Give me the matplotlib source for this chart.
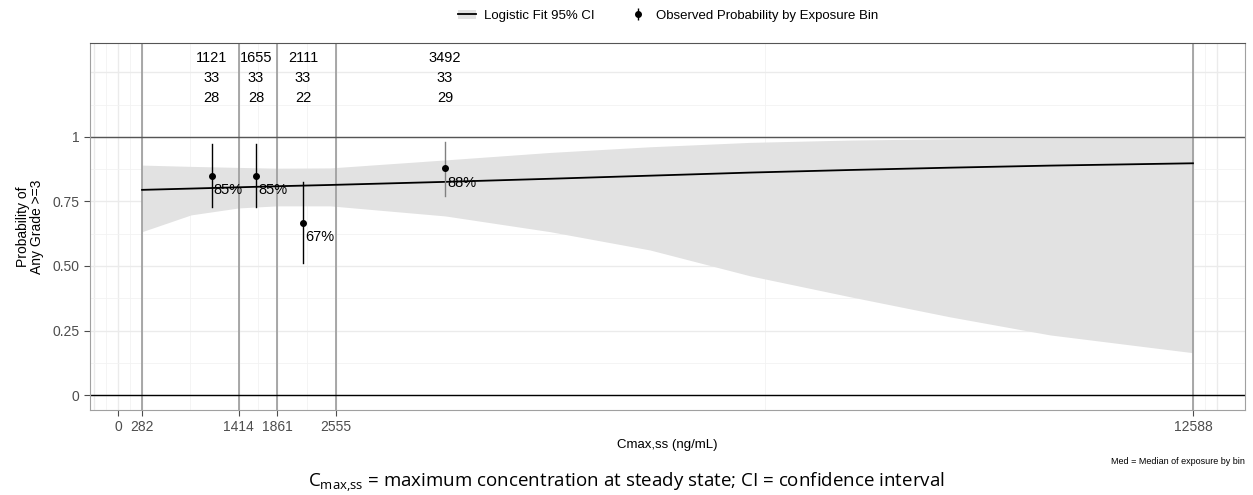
import numpy as np
import matplotlib.pyplot as plt
from matplotlib.patches import Patch
from matplotlib.lines import Line2D

plt.rcParams['font.family'] = ['Liberation Sans', 'DejaVu Sans']

# bin boundaries (x axis breaks)
breaks = [0, 282, 1414, 1861, 2555, 12588]
bin_edges = [282, 1414, 1861, 2555, 12588]

# observed probability by exposure bin
med = [1121, 1655, 2111, 3492]
xpos = [1097, 1616, 2166, 3829]   # where the points sit on the axis
n_tot = [33, 33, 33, 33]
n_evt = [28, 28, 22, 29]
prob = [0.85, 0.85, 0.667, 0.879]
ci_lo = [0.729, 0.729, 0.512, 0.771]
ci_hi = [0.973, 0.973, 0.826, 0.981]
pct = ['85%', '85%', '67%', '88%']

# logistic fit with 95% CI
fit_x = [282, 855, 1414, 1861, 2485, 3831, 5060, 6231, 7401, 8571, 9742, 10913, 12588]
fit_y = [0.795, 0.800, 0.805, 0.809, 0.814, 0.826, 0.838, 0.850, 0.862, 0.872, 0.881, 0.889, 0.898]
fit_lo = [0.633, 0.698, 0.725, 0.733, 0.733, 0.694, 0.633, 0.562, 0.462, 0.381, 0.303, 0.233, 0.164]
fit_hi = [0.891, 0.886, 0.882, 0.879, 0.880, 0.911, 0.940, 0.962, 0.979, 0.988, 0.993, 0.996, 0.999]

fig = plt.figure(figsize=(12.53, 4.95), dpi=100)
ax = fig.add_axes([0.0718, 0.1717, 0.9218, 0.7414])

xmin, xmax = -328, 13197
ymin, ymax = -0.058, 1.364

# grid lines like ggplot (minor at midpoints)
ext = [-282] + breaks + [12870]
minor_x = [(a + b) / 2 for a, b in zip(ext[:-1], ext[1:])]
for v in ext:
    ax.axvline(v, color='#ebebeb', lw=1.0, zorder=0)
for v in minor_x:
    ax.axvline(v, color='#f2f2f2', lw=0.6, zorder=0)
for v in np.arange(0, 1.26, 0.25):
    ax.axhline(v, color='#ebebeb', lw=1.0, zorder=0)
for v in np.arange(0.125, 1.26, 0.25):
    ax.axhline(v, color='#f2f2f2', lw=0.6, zorder=0)

ax.fill_between(fit_x, fit_lo, fit_hi, color='#e2e2e2', lw=0, zorder=1)
ax.plot(fit_x, fit_y, color='black', lw=1.3, zorder=3)

for v in bin_edges:
    ax.axvline(v, color='#9a9a9a', lw=1.2, zorder=2)
ax.axhline(1, color='#555555', lw=1.0, zorder=2)
ax.axhline(0, color='black', lw=1.0, zorder=2)

bar_cols = ['black', 'black', 'black', '#808080']
for i in range(len(med)):
    ax.plot([xpos[i], xpos[i]], [ci_lo[i], ci_hi[i]], color=bar_cols[i], lw=1.0, zorder=4)
    ax.plot(xpos[i], prob[i], 'o', color='black', ms=4, zorder=5)
    ax.text(xpos[i] + 25, prob[i] - 0.056, pct[i], ha='left', va='center', fontsize=10.5, zorder=6)
    ax.text(xpos[i], 1.306, str(med[i]), ha='center', va='center', fontsize=10.5)
    ax.text(xpos[i], 1.229, str(n_tot[i]), ha='center', va='center', fontsize=10.5)
    ax.text(xpos[i], 1.151, str(n_evt[i]), ha='center', va='center', fontsize=10.5)

ax.set_xlim(xmin, xmax)
ax.set_ylim(ymin, ymax)
ax.set_xticks(breaks)
ax.set_xticklabels([str(b) for b in breaks])
ax.set_yticks([0, 0.25, 0.5, 0.75, 1])
ax.set_yticklabels(['0', '0.25', '0.50', '0.75', '1'])
ax.tick_params(axis='both', colors='#4d4d4d', labelsize=10, length=4, width=0.8)
for s in ['left', 'right', 'bottom']:
    ax.spines[s].set_color('#a0a0a0')
ax.spines['top'].set_color('#555555')

ax.set_xlabel('Cmax,ss (ng/mL)', fontsize=9.5, labelpad=3)
ax.set_ylabel('Probability of\nAny Grade >=3', fontsize=10, labelpad=6, linespacing=1.0)

h1 = (Patch(facecolor='#e2e2e2', edgecolor='none'), Line2D([], [], color='black', lw=1.3))
h2 = (Line2D([], [], color='black', marker='|', ms=9, ls='none', mew=1),
      Line2D([], [], color='black', marker='o', ms=4, ls='none'))
fig.legend([h1, h2], ['Logistic Fit 95% CI', 'Observed Probability by Exposure Bin'],
           loc='center', bbox_to_anchor=(0.533, 0.968), ncol=2, frameon=False,
           fontsize=9.5, handlelength=1.4, columnspacing=2.6, handletextpad=0.6)

fig.text(0.9936, 0.068, 'Med = Median of exposure by bin', ha='right', va='center', fontsize=6.5)
fig.text(0.5, 0.025, r'$\mathregular{C_{max{,}ss}}$ = maximum concentration at steady state; CI = confidence interval',
         ha='center', va='center', fontsize=13.5, family='Open Sans')

fig.savefig('out.png', dpi=100)
